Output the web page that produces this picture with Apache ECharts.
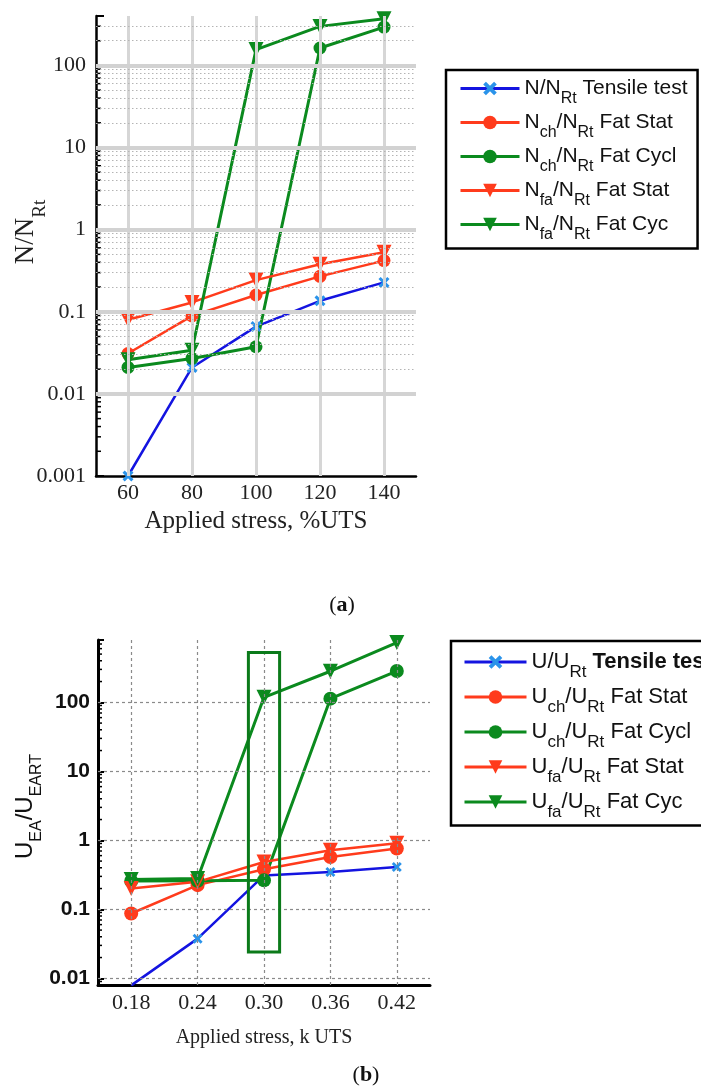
<!DOCTYPE html>
<html>
<head>
<meta charset="utf-8">
<script src="https://cdn.jsdelivr.net/npm/echarts@6/dist/echarts.min.js"></script>
<style>
  html, body { margin: 0; padding: 0; background: #fff; }
  #chart { width: 701px; height: 1092px; }
</style>
</head>
<body>
<div id="chart"></div>
<script>
// ---------- (a) cycle ratios vs applied stress (%UTS) ----------
const stressPct = ['60', '80', '100', '120', '140'];
const nTensile = [0.001, 0.021, 0.066, 0.136, 0.228];
const nChStat  = [0.031, 0.089, 0.16, 0.27, 0.42];
const nChCycl  = [0.021, 0.027, 0.0375, 163, 293];
const nFaStat  = [0.08, 0.13, 0.243, 0.38, 0.53];
const nFaCyc   = [0.026, 0.034, 156, 299, 371];
const yTicksA  = ['0.001', '0.01', '0.1', '1', '10', '100'];

// ---------- (b) energy ratios vs applied stress (k UTS) ----------
const stressK  = ['0.18', '0.24', '0.30', '0.36', '0.42'];
const uTensile = [0.0079, 0.0376, 0.31, 0.348, 0.41];
const uChStat  = [0.087, 0.224, 0.38, 0.573, 0.76];
const uChCycl  = [0.257, 0.26, 0.263, 113, 284];
const uFaStat  = [0.2, 0.25, 0.485, 0.716, 0.91];
const uFaCyc   = [0.27, 0.28, 118, 282, 733];
const yTicksB  = ['0.01', '0.1', '1', '10', '100'];
// highlighted transition at k = 0.30: [category index, lower, upper]
const transitionBox = [[2, 0.024, 525]];

// log grid helpers
const decadesA = [0.001, 0.01, 0.1, 1, 10, 100];
const decadesB = [0.01, 0.1, 1, 10, 100];
const minorSteps = [2, 3, 4, 5, 6, 7, 8, 9];
const minorA = [];
decadesA.forEach(d => minorSteps.forEach(m => { const v = +(d * m).toPrecision(3); if (v < 400) minorA.push(v); }));
const minorB = [];
[0.001].concat(decadesB).forEach(d => minorSteps.forEach(m => { const v = +(d * m).toPrecision(3); if (v > 0.008 && v < 800) minorB.push(v); }));

const RED = '#ff3b1c', GREEN = '#0b8a1e', BLUE = '#1414e0', XBLUE = '#2a93ea';
const SERIF = 'Liberation Serif', SANS = 'Liberation Sans';
const SYM_X = 'path://M0,2 L2,0 L5,3 L8,0 L10,2 L7,5 L10,8 L8,10 L5,7 L2,10 L0,8 L3,5 Z';
const SYM_TRI = 'path://M0,0 L10,0 L5,9 Z';

function decadeLabel(ticks) {
  return function (v) {
    const e = Math.log10(v);
    if (Math.abs(e - Math.round(e)) > 1e-6) return '';
    return ticks.find(t => Math.abs(Math.log10(+t) - e) < 1e-6) || '';
  };
}
function richName(name, boldPart) {
  let s = '{m|' + name.replace(/_\{(\w+)\}/g, '}{s|$1}{m|') + '}';
  if (boldPart) s = s.replace(boldPart, '}{b|' + boldPart + '}{m|');
  return s.replace(/\{m\|\}/g, '');
}

const namesA = ['N/N_{Rt} Tensile test', 'N_{ch}/N_{Rt} Fat Stat', 'N_{ch}/N_{Rt} Fat Cycl', 'N_{fa}/N_{Rt} Fat Stat', 'N_{fa}/N_{Rt} Fat Cyc'];
const namesB = ['U/U_{Rt} Tensile test', 'U_{ch}/U_{Rt} Fat Stat', 'U_{ch}/U_{Rt} Fat Cycl', 'U_{fa}/U_{Rt} Fat Stat', 'U_{fa}/U_{Rt} Fat Cyc'];

function lineSeries(name, data, gi, color, lineColor, symbol, size, width) {
  return {
    type: 'line', name: name, data: data, xAxisIndex: gi, yAxisIndex: gi,
    symbol: symbol, symbolSize: size, z: 3,
    lineStyle: { color: lineColor || color, width: width },
    itemStyle: { color: color }
  };
}

function minorTickSeries(gi, values, len) {
  return {
    type: 'custom', xAxisIndex: gi, yAxisIndex: gi, silent: true, z: 4,
    data: values.map(v => [0, v]),
    encode: { x: 0, y: 1 },
    renderItem: function (params, api) {
      const y = api.coord([0, api.value(1)])[1];
      const x0 = params.coordSys.x;
      return { type: 'line', shape: { x1: x0, y1: y, x2: x0 + len, y2: y }, style: { stroke: '#000', lineWidth: 1.5 } };
    }
  };
}

const gridLinesA = [];
stressPct.forEach(c => gridLinesA.push({ xAxis: c, lineStyle: { color: '#d6d6d6', width: 3, type: 'solid' } }));
minorA.forEach(v => gridLinesA.push({ yAxis: v, lineStyle: { color: '#b4b4b4', width: 1, type: [1.5, 2.5] } }));
decadesA.slice(1).forEach(v => gridLinesA.push({ yAxis: v, lineStyle: { color: '#d2d2d2', width: 4, type: 'solid' } }));

const gridLinesB = [];
stressK.forEach(c => gridLinesB.push({ xAxis: c, lineStyle: { color: '#8a8a8a', width: 1.2, type: [3, 3] } }));
decadesB.forEach(v => gridLinesB.push({ yAxis: v, lineStyle: { color: '#8a8a8a', width: 1.2, type: [3, 3] } }));

function gridSeries(gi, lines) {
  return {
    type: 'line', xAxisIndex: gi, yAxisIndex: gi, data: [], z: 1, silent: true,
    markLine: { silent: true, symbol: ['none', 'none'], label: { show: false }, animation: false, data: lines }
  };
}

const legendRich = (fs, sub, pad) => ({
  m: { fontFamily: SANS, fontSize: fs, color: '#111', lineHeight: fs + 4 },
  b: { fontFamily: SANS, fontSize: fs, color: '#111', fontWeight: 'bold', lineHeight: fs + 4 },
  s: { fontFamily: SANS, fontSize: sub, color: '#111', lineHeight: sub, padding: [pad, 0, -pad, 0] }
});

const chart = echarts.init(document.getElementById('chart'), null, { renderer: 'canvas' });
chart.setOption({
  animation: false,
  backgroundColor: '#fff',
  grid: [
    { left: 96, top: 16, width: 320, height: 460 },
    { left: 98, top: 640, width: 332, height: 345 }
  ],
  xAxis: [
    {
      type: 'category', gridIndex: 0, data: stressPct, boundaryGap: true,
      axisLine: { onZero: false, lineStyle: { color: '#000', width: 2.5 } },
      axisTick: { show: false }, splitLine: { show: false },
      axisLabel: { fontFamily: SERIF, fontSize: 22, color: '#222', margin: 6 },
      name: 'Applied stress, %UTS', nameLocation: 'middle', nameGap: 33, nameMoveOverlap: false,
      nameTextStyle: { fontFamily: SERIF, fontSize: 25, color: '#222' }
    },
    {
      type: 'category', gridIndex: 1, data: stressK, boundaryGap: true,
      axisLine: { onZero: false, lineStyle: { color: '#000', width: 3 } },
      axisTick: { show: false }, splitLine: { show: false },
      axisLabel: { fontFamily: SERIF, fontSize: 22, color: '#222', margin: 7 },
      name: 'Applied stress, k UTS', nameLocation: 'middle', nameGap: 43, nameMoveOverlap: false,
      nameTextStyle: { fontFamily: SERIF, fontSize: 20, color: '#222' }
    }
  ],
  yAxis: [
    {
      type: 'log', logBase: 10, gridIndex: 0, min: 0.001, max: 400,
      axisLine: { show: true, onZero: false, lineStyle: { color: '#000', width: 2.5 } },
      axisTick: { show: true, inside: true, length: 8, lineStyle: { color: '#000', width: 2 } },
      splitLine: { show: false },
      axisLabel: { fontFamily: SERIF, fontSize: 22, color: '#222', margin: 10, formatter: decadeLabel(yTicksA) },
      name: '{m|N/N}{s|Rt}', nameLocation: 'middle', nameRotate: 90, nameGap: 56, nameMoveOverlap: false,
      nameTextStyle: {
        padding: [0, 0, 0, 28],
        rich: {
          m: { fontFamily: SERIF, fontSize: 27, color: '#222', lineHeight: 28 },
          s: { fontFamily: SERIF, fontSize: 19, color: '#222', lineHeight: 19, padding: [14, 0, -14, 0] }
        }
      }
    },
    {
      type: 'log', logBase: 10, gridIndex: 1, min: 0.008, max: 800,
      axisLine: { show: true, onZero: false, lineStyle: { color: '#000', width: 3 } },
      axisTick: { show: true, inside: true, length: 6, lineStyle: { color: '#000', width: 2 } },
      splitLine: { show: false },
      axisLabel: { fontFamily: SANS, fontSize: 21, fontWeight: 'bold', color: '#111', margin: 8, formatter: decadeLabel(yTicksB) },
      name: '{m|U}{s|EA}{m|/U}{s|EART}', nameLocation: 'middle', nameRotate: 90, nameGap: 60, nameMoveOverlap: false,
      nameTextStyle: {
        padding: [0, 0, 0, 12],
        rich: {
          m: { fontFamily: SANS, fontSize: 24, color: '#111', lineHeight: 26 },
          s: { fontFamily: SANS, fontSize: 16, color: '#111', lineHeight: 16, padding: [12, 0, -12, 0] }
        }
      }
    }
  ],
  legend: [
    {
      orient: 'vertical', left: 446, top: 70, padding: [8, 10, 6, 13],
      borderColor: '#000', borderWidth: 2.5, itemWidth: 59, itemHeight: 17, itemGap: 5.5,
      selectedMode: false, data: namesA,
      lineStyle: { width: 3 },
      formatter: name => richName(name),
      textStyle: { rich: legendRich(21, 16, 10) }
    },
    {
      orient: 'vertical', left: 451, top: 641, padding: [10, 10, 5, 12],
      borderColor: '#000', borderWidth: 2.5, itemWidth: 62, itemHeight: 17, itemGap: 5.5,
      selectedMode: false, data: namesB,
      lineStyle: { width: 3 },
      formatter: name => richName(name, ' Tensile test'),
      textStyle: { rich: legendRich(22, 17, 10) }
    }
  ],
  graphic: [
    { type: 'text', x: 342, y: 605, style: { text: '{p|(}{b|a}{p|)}', align: 'center', verticalAlign: 'middle',
      rich: { p: { fontFamily: SERIF, fontSize: 22, fill: '#111' }, b: { fontFamily: SERIF, fontSize: 22, fontWeight: 'bold', fill: '#111' } } } },
    { type: 'text', x: 366, y: 1075, style: { text: '{p|(}{b|b}{p|)}', align: 'center', verticalAlign: 'middle',
      rich: { p: { fontFamily: SERIF, fontSize: 22, fill: '#111' }, b: { fontFamily: SERIF, fontSize: 22, fontWeight: 'bold', fill: '#111' } } } }
  ],
  series: [
    gridSeries(0, gridLinesA),
    gridSeries(1, gridLinesB),
    minorTickSeries(0, minorA, 5),
    minorTickSeries(1, minorB, 4),

    lineSeries(namesA[0], nTensile, 0, XBLUE, BLUE, SYM_X, 11, 2.5),
    lineSeries(namesA[1], nChStat, 0, RED, null, 'circle', 13, 2.5),
    lineSeries(namesA[2], nChCycl, 0, GREEN, null, 'circle', 13, 3),
    lineSeries(namesA[3], nFaStat, 0, RED, null, SYM_TRI, 15, 2.5),
    lineSeries(namesA[4], nFaCyc, 0, GREEN, null, SYM_TRI, 15, 3),

    lineSeries(namesB[0], uTensile, 1, XBLUE, BLUE, SYM_X, 10, 2.5),
    lineSeries(namesB[1], uChStat, 1, RED, null, 'circle', 14, 2.5),
    lineSeries(namesB[2], uChCycl, 1, GREEN, null, 'circle', 14, 3),
    lineSeries(namesB[3], uFaStat, 1, RED, null, SYM_TRI, 15, 2.5),
    lineSeries(namesB[4], uFaCyc, 1, GREEN, null, SYM_TRI, 15, 3),

    {
      type: 'custom', xAxisIndex: 1, yAxisIndex: 1, silent: true, z: 6,
      data: transitionBox, encode: { x: 0, y: [1, 2] },
      renderItem: function (params, api) {
        const i = api.value(0);
        const pTop = api.coord([i, api.value(2)]);
        const pBot = api.coord([i, api.value(1)]);
        const band = api.size([1, api.value(1)])[0];
        const w = band * 0.47;
        return {
          type: 'rect',
          shape: { x: pTop[0] - w / 2, y: pTop[1], width: w, height: pBot[1] - pTop[1] },
          style: { fill: 'none', stroke: '#0b7a1a', lineWidth: 3 }
        };
      }
    }
  ]
});
</script>
</body>
</html>
